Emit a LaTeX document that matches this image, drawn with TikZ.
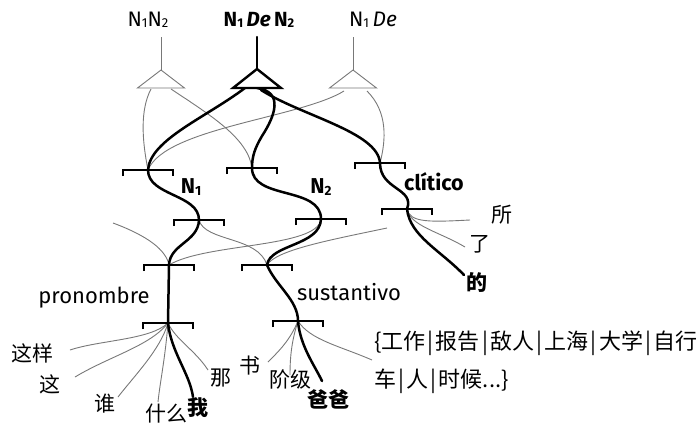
\documentclass[tikz,border=0pt]{standalone}
\usepackage{fontspec}
\setmainfont{Fira Sans}
\newfontfamily\cjk{Noto Sans CJK SC}
\newcommand\sub[1]{\raisebox{-0.1ex}{\scalebox{0.62}{#1}}}
\newcommand\vsep{\hspace{2.2pt}|\hspace{2.2pt}}
\definecolor{linegray}{RGB}{120,120,120}
\begin{document}
\begin{tikzpicture}[x=1pt,y=-1pt,
  heavy/.style={line width=2.5pt,black,line cap=round},
  faint/.style={line width=0.9pt,linegray},
  bracketline/.style={line width=2pt,black},
  toplab/.style={inner sep=0pt,font=\fontsize{21}{21}\selectfont},
  lab/.style={inner sep=0pt,font=\fontsize{22}{22}\selectfont},
  blab/.style={inner sep=0pt,font=\fontsize{21.5}{21.5}\selectfont\bfseries},
  zh/.style={inner sep=0pt,font=\fontsize{21}{21}\selectfont\cjk},
  zhb/.style={inner sep=0pt,font=\fontsize{21}{21}\selectfont\cjk\bfseries},
  zhl/.style={inner sep=0pt,anchor=west,font=\fontsize{22}{22}\selectfont\cjk}]
\useasboundingbox (0,0) rectangle (698,429);

% construction labels on top
\node[toplab] (lN) at (148,20) {N\sub1N\sub2};
\node[toplab,font=\fontsize{20.5}{20.5}\selectfont\bfseries] (cN) at (259,20) {N\sub1\,\textit{De}\,N\sub2};
\node[toplab] (rN) at (373,20) {N\sub1\,\textit{De}};

% stems and triangle apexes
\coordinate (tlt) at (161,37); \coordinate (tl) at (161,70);
\coordinate (tct) at (257,37); \coordinate (tc) at (257,69);
\coordinate (trt) at (353,37); \coordinate (tr) at (353,70);

% points on the triangle bases where branches leave
\coordinate (tlA) at (151,89); \coordinate (tlB) at (171,89);
\coordinate (tcA) at (245,88); \coordinate (tcB) at (257,88); \coordinate (tcC) at (261,90);
\coordinate (trA) at (344,91); \coordinate (trB) at (367,91);

% bracket centres
\coordinate (b1) at (148,170);
\coordinate (b2) at (252,168);
\coordinate (b3) at (380,163);
\coordinate (b4) at (199,220);
\coordinate (b5) at (321,219);
\coordinate (b6) at (407,209);
\coordinate (b7) at (169,265);
\coordinate (b8) at (267,265);
\coordinate (b9) at (168,323);
\coordinate (b10) at (298,321);

% loose ends of the crossing branches
\coordinate (f1) at (113,223);
\coordinate (f2) at (387,228);

% category labels
\node[blab] (n1) at (191,187) {N\sub1};
\node[blab] (n2) at (321,187) {N\sub2};
\node[blab] (cl) at (434,182) {clítico};
\node[lab] (pr) at (94,298) {pronombre};
\node[lab] (su) at (349,292) {sustantivo};

% words
\node[zh] (w1) at (502,215) {所};
\node[zh] (w2) at (480,244) {了};
\node[zhb] (w3) at (477,283) {的};
\node[zh] (p1) at (32,353) {这样};
\node[zh] (p2) at (50,384) {这};
\node[zh] (p3) at (105,404) {谁};
\node[zh] (p4) at (166,414) {什么};
\node[zhb] (p5) at (198,408) {我};
\node[zh] (p6) at (221,378) {那};
\node[zh] (s1) at (250,366) {书};
\node[zh] (s2) at (290,380) {阶级};
\node[zhb] (s3) at (328,399) {爸爸};
\node[zhl] (s4) at (374,343) {\{工作\vsep 报告\vsep 敌人\vsep 上海\vsep 大学\vsep 自行};
\node[zhl] (s5) at (374,381) {车\vsep 人\vsep 时候...\}};

% word attachment points
\coordinate (aw1) at (470,220);
\coordinate (aw2) at (465,247);
\coordinate (aw3) at (464,275);
\coordinate (ap1) at (70,350);
\coordinate (ap2) at (75,377);
\coordinate (ap3) at (118,397);
\coordinate (ap4) at (158,402);
\coordinate (ap5) at (193,397);
\coordinate (ap6) at (208,370);
\coordinate (as1) at (268,362);
\coordinate (as2) at (290,375);
\coordinate (as3) at (322,381);
\coordinate (as4) at (372,360);

% thin branches
\draw[faint] (tlt) -- (tl);
\draw[faint] (trt) -- (tr);
\draw[faint] (tlA) .. controls (140,110) and (142,140) .. (b1);
\draw[faint] (tlB) .. controls (210,115) and (248,138) .. (b2);
\draw[faint] (trA) .. controls (300,118) and (165,128) .. (b1);
\draw[faint] (trB) .. controls (388,112) and (386,140) .. (b3);
\draw[faint] (f1) .. controls (148,236) and (166,250) .. (b7);
\draw[faint] (b4) .. controls (205,242) and (258,236) .. (b8);
\draw[faint] (b5) .. controls (318,248) and (205,243) .. (b7);
\draw[faint] (f2) .. controls (330,240) and (276,250) .. (b8);
\draw[faint] (b6) .. controls (410,223) and (430,222) .. (aw1);
\draw[faint] (b6) .. controls (410,226) and (440,232) .. (aw2);
\draw[faint] (b9) .. controls (150,340) and (100,340) .. (ap1);
\draw[faint] (b9) .. controls (150,346) and (110,356) .. (ap2);
\draw[faint] (b9) .. controls (160,350) and (135,375) .. (ap3);
\draw[faint] (b9) .. controls (165,360) and (160,382) .. (ap4);
\draw[faint] (b9) .. controls (176,340) and (195,350) .. (ap6);
\draw[faint] (b10) .. controls (290,340) and (280,350) .. (as1);
\draw[faint] (b10) .. controls (292,340) and (290,355) .. (as2);
\draw[faint] (b10) .. controls (310,340) and (340,346) .. (as4);

% heavy branches: N1 De N2
\draw[heavy] (tct) -- (tc);
\draw[heavy] (tcA) .. controls (205,118) and (150,140) .. (b1)
  .. controls (148,196) and (199,194) .. (b4)
  .. controls (198,242) and (170,244) .. (b7)
  -- (b9)
  .. controls (171,352) and (190,374) .. (ap5);
\draw[heavy] (tcB) .. controls (284,92) and (275,116) .. (262,136)
  .. controls (255,148) and (252,156) .. (b2)
  .. controls (252,200) and (321,186) .. (b5)
  .. controls (320,246) and (270,244) .. (b8)
  .. controls (276,286) and (298,300) .. (b10)
  .. controls (300,346) and (315,366) .. (as3);
\draw[heavy] (tcC) .. controls (302,116) and (378,132) .. (b3)
  .. controls (380,190) and (415,188) .. (b6)
  .. controls (410,236) and (440,250) .. (aw3);

% triangles
\draw[faint,fill=white,line join=miter] (tl) -- ++(-23.5,18) -- ++(47,0) -- cycle;
\draw[faint,fill=white,line join=miter] (tr) -- ++(-23.5,18) -- ++(47,0) -- cycle;
\draw[line width=2.4pt,fill=white,line join=miter] (tc) -- ++(-24,19) -- ++(48,0) -- cycle;

% brackets
\foreach \b in {b1,b2,b3,b4,b5,b6,b7,b8,b9,b10}
  \draw[bracketline] ([shift={(-25,6)}]\b) -- ++(0,-6) -- ++(50,0) -- ++(0,6);
\end{tikzpicture}
\end{document}
